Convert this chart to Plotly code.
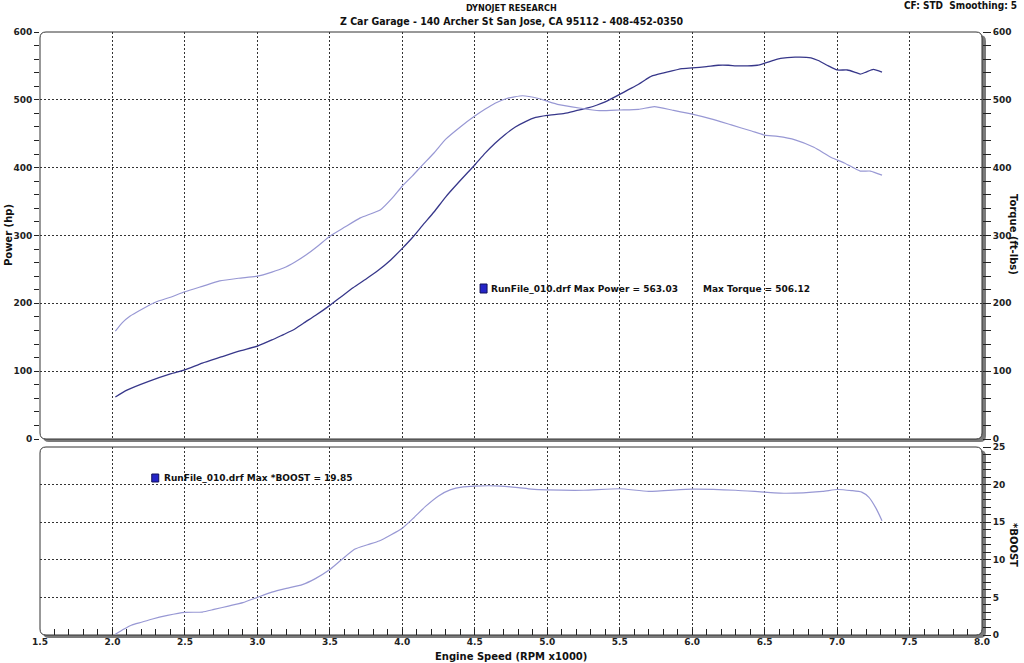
import plotly.graph_objects as go

# ---------------- data ----------------
rpm_power = [2.02, 2.1, 2.25, 2.4, 2.5, 2.62, 2.75, 2.88, 3.0, 3.1, 3.18, 3.25, 3.32, 3.4, 3.5,
             3.58, 3.66, 3.75, 3.83, 3.92, 4.0, 4.07, 4.14, 4.22, 4.3, 4.4, 4.5, 4.57, 4.64, 4.71,
             4.78, 4.85, 4.92, 5.0, 5.12, 5.2, 5.28, 5.34, 5.4, 5.5, 5.56, 5.63, 5.68, 5.72, 5.81,
             5.93, 6.0, 6.1, 6.18, 6.25, 6.32, 6.45, 6.5, 6.56, 6.61, 6.71, 6.82, 6.87, 6.94, 7.0,
             7.07, 7.12, 7.16, 7.2, 7.25, 7.31]
power_hp = [62, 72, 85, 96, 102, 112, 121, 130, 137, 146, 154, 161, 171, 182, 197,
            210, 223, 236, 248, 264, 281, 297, 315, 335, 357, 381, 404, 421, 436, 449,
            460, 468, 474, 477, 480, 484, 488, 492, 497, 508, 515, 523, 530, 535, 540,
            546, 547, 549, 551, 551, 550, 551, 554, 558, 561, 563, 562, 558, 550, 544,
            544, 541, 538, 541, 545, 541]

rpm_torque = [2.02, 2.07, 2.12, 2.2, 2.3, 2.4, 2.5, 2.62, 2.74, 2.87, 3.0, 3.1, 3.18, 3.26, 3.34,
              3.42, 3.5, 3.6, 3.71, 3.85, 3.93, 4.0, 4.07, 4.14, 4.22, 4.3, 4.4, 4.5, 4.57, 4.64,
              4.72, 4.83, 4.94, 5.0, 5.08, 5.22, 5.36, 5.5, 5.63, 5.74, 5.86, 6.0, 6.13, 6.27,
              6.41, 6.5, 6.59, 6.71, 6.84, 6.96, 7.05, 7.16, 7.23, 7.31]
torque_ftlb = [159, 172, 181, 191, 202, 209, 217, 225, 233, 237, 240, 246, 252, 261, 272,
               285, 299, 312, 326, 338, 355, 373, 388, 404, 422, 442, 460, 476, 486, 495,
               502, 506, 502, 498, 493, 488, 484, 485, 486, 490, 485, 479, 472, 463,
               454, 448, 446, 441, 430, 415, 407, 395, 395, 389]

rpm_boost = [2.02, 2.08, 2.13, 2.2, 2.27, 2.38, 2.5, 2.62, 2.7, 2.8, 2.9, 3.0, 3.1, 3.2, 3.31,
             3.4, 3.5, 3.58, 3.67, 3.76, 3.84, 3.92, 4.0, 4.08, 4.16, 4.25, 4.33, 4.42, 4.5, 4.6,
             4.68, 4.8, 4.89, 5.0, 5.25, 5.5, 5.7, 6.0, 6.3, 6.5, 6.65, 6.9, 7.0, 7.1, 7.17,
             7.22, 7.27, 7.31]
boost_psi = [0.1, 0.8, 1.3, 1.7, 2.1, 2.6, 3.0, 3.05, 3.4, 3.85, 4.3, 5.0, 5.7, 6.2, 6.7,
             7.5, 8.7, 10.0, 11.4, 12.0, 12.5, 13.3, 14.2, 15.6, 17.1, 18.5, 19.3, 19.7, 19.8, 19.85,
             19.8, 19.6, 19.4, 19.3, 19.25, 19.45, 19.1, 19.4, 19.25, 19.0, 18.85, 19.1, 19.35, 19.2, 19.0,
             18.3, 16.8, 15.2]

title_main = "DYNOJET RESEARCH"
title_sub = "Z Car Garage - 140 Archer St San Jose, CA 95112 - 408-452-0350"
corner_text = "CF: STD  Smoothing: 5"
legend_power = "RunFile_010.drf Max Power = 563.03"
legend_torque = "Max Torque = 506.12"
legend_boost = "RunFile_010.drf Max *BOOST = 19.85"

# ---------------- layout helpers (pixel -> paper) ----------------
W, H = 1024, 663
L, R, T, B = 40, 984, 32, 635


def px(x):
    return (x - L) / (R - L)


def py(y):
    return (B - y) / (B - T)


def rounded_path(x0, y0, x1, y1, r):
    pts = [
        ("M", [(x0 + r, y0)]), ("L", [(x1 - r, y0)]), ("Q", [(x1, y0), (x1, y0 + r)]),
        ("L", [(x1, y1 - r)]), ("Q", [(x1, y1), (x1 - r, y1)]), ("L", [(x0 + r, y1)]),
        ("Q", [(x0, y1), (x0, y1 - r)]), ("L", [(x0, y0 + r)]), ("Q", [(x0, y0), (x0 + r, y0)]),
    ]
    s = ""
    for cmd, p in pts:
        s += cmd + " " + " ".join(f"{px(a):.5f},{py(b):.5f}" for a, b in p) + " "
    return s + "Z"


TOP_Y1 = 439
BOT_Y0 = 447
top_dom = [py(TOP_Y1), 1.0]
bot_dom = [0.0, py(BOT_Y0)]

DARK = "rgb(55,55,138)"
LIGHT = "rgb(152,152,212)"
TICKFONT = dict(family="DejaVu Sans, Verdana, sans-serif", size=9, color="#222", weight="bold")
NARROW = "DejaVu Sans Condensed, Liberation Sans Narrow, Arial Narrow, sans-serif"
GRID = dict(showgrid=True, gridcolor="#333", griddash="2px,2px", gridwidth=1)

fig = go.Figure()
fig.add_trace(go.Scatter(x=rpm_torque, y=torque_ftlb, mode="lines", yaxis="y2", xaxis="x",
                         line=dict(color=LIGHT, width=1.2, shape="spline", smoothing=0.5)))
fig.add_trace(go.Scatter(x=rpm_power, y=power_hp, mode="lines", xaxis="x", yaxis="y",
                         line=dict(color=DARK, width=1.3, shape="spline", smoothing=0.5)))
fig.add_trace(go.Scatter(x=rpm_boost, y=boost_psi, mode="lines", xaxis="x2", yaxis="y3",
                         line=dict(color=LIGHT, width=1.2, shape="spline", smoothing=0.5)))

shapes = []
for (y0, y1) in [(T, TOP_Y1), (BOT_Y0, B)]:
    shapes.append(dict(type="path", xref="paper", yref="paper", layer="below",
                       path=rounded_path(L + 3, y0 + 3, R + 4, y1 + 3, 6),
                       fillcolor="#7a7a7a", line=dict(width=0)))
    shapes.append(dict(type="path", xref="paper", yref="paper", layer="below",
                       path=rounded_path(L, y0, R, y1, 6),
                       fillcolor="white", line=dict(color="#333", width=1)))
# legend icons
for (x0, y0, x1, y1) in [(481, 284, 488, 293), (152, 474, 159, 482)]:
    shapes.append(dict(type="rect", xref="paper", yref="paper", layer="above",
                       x0=px(x0), x1=px(x1), y0=py(y1), y1=py(y0),
                       fillcolor="#2424c8", line=dict(color="#10105a", width=1)))


def ann(text, x, y, size=10, xanchor="center", angle=0, family="DejaVu Sans, Verdana, sans-serif",
        weight="bold"):
    return dict(text=text, x=px(x), y=py(y), xref="paper", yref="paper", showarrow=False,
                xanchor=xanchor, yanchor="middle", textangle=angle,
                font=dict(family=family, size=size, color="#111", weight=weight))


annotations = [
    ann(title_main, 512, 8, size=9, family=NARROW),
    ann(title_sub, 512, 21, size=10.5, family=NARROW),
    ann(corner_text, 1021, 6, size=10, xanchor="right", family=NARROW),
    ann("Power (hp)", 8, 235, size=10, angle=-90),
    ann("Torque (ft-lbs)", 1016, 235, size=10, angle=90),
    ann("*BOOST", 1016, 545, size=10, angle=90),
    ann("Engine Speed (RPM x1000)", 512, 656, size=10),
    ann(legend_power, 490, 289, size=9, xanchor="left"),
    ann(legend_torque, 702, 289, size=9, xanchor="left"),
    ann(legend_boost, 162, 478, size=9, xanchor="left"),
]

fig.update_layout(
    width=W, height=H,
    margin=dict(l=L, r=W - R, t=T, b=H - B, pad=0),
    paper_bgcolor="white", plot_bgcolor="rgba(0,0,0,0)",
    showlegend=False,
    shapes=shapes, annotations=annotations,
    xaxis=dict(domain=[0, 1], anchor="y", range=[1.5, 8.0], dtick=0.5, showticklabels=False,
               ticks="", zeroline=False, showline=False, **GRID),
    yaxis=dict(domain=top_dom, anchor="x", range=[0, 600], dtick=100, side="left",
               ticks="outside", ticklen=5, tickcolor="#222", tickfont=TICKFONT,
               minor=dict(dtick=20, ticks="outside", ticklen=5, tickcolor="#222", showgrid=False),
               zeroline=False, showline=False, **GRID),
    yaxis2=dict(overlaying="y", anchor="x", side="right", range=[0, 600], dtick=100,
                ticks="outside", ticklen=8, tickcolor="#222", tickfont=TICKFONT,
                minor=dict(dtick=20, ticks="outside", ticklen=8, tickcolor="#222"),
                showgrid=False, zeroline=False, showline=False),
    xaxis2=dict(domain=[0, 1], anchor="y3", range=[1.5, 8.0], dtick=0.5, tickformat=".1f",
                ticks="inside", ticklen=6, tickcolor="#222", tickfont=TICKFONT,
                minor=dict(dtick=0.1, ticks="inside", ticklen=6, tickcolor="#222", showgrid=False),
                zeroline=False, showline=False, **GRID),
    yaxis3=dict(domain=bot_dom, anchor="x2", side="right", range=[0, 25], dtick=5,
                ticks="outside", ticklen=8, tickcolor="#222", tickfont=TICKFONT,
                minor=dict(dtick=1, ticks="outside", ticklen=8, tickcolor="#222", showgrid=False),
                zeroline=False, showline=False, **GRID),
)

fig.write_html("out.html")
